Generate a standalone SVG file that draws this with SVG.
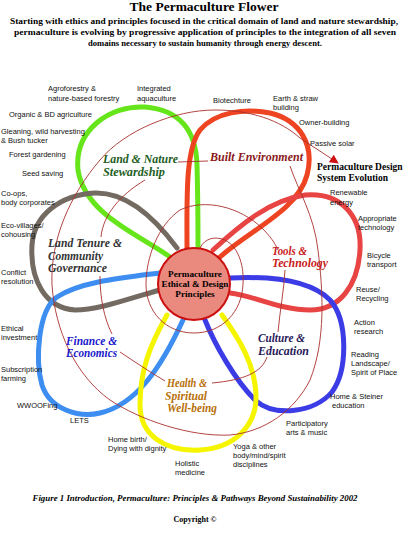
<svg xmlns="http://www.w3.org/2000/svg" width="409" height="540" viewBox="0 0 409 540">
<style>
.t{font-family:"Liberation Sans",Arial,sans-serif;font-size:7.5px;fill:#111}
.h{font-family:"Liberation Serif","Times New Roman",serif;font-weight:bold;fill:#000}
.p{fill:none;stroke-width:5;stroke-linecap:round;stroke-linejoin:round}
.sp{fill:none;stroke:#a8302c;stroke-width:0.9}
.lb{font-family:"Liberation Serif","Times New Roman",serif;font-style:italic;font-weight:bold;font-size:11.5px}
</style>
<defs>
<marker id="arr" viewBox="0 0 10 10" refX="9" refY="5" markerWidth="10" markerHeight="9" orient="auto" markerUnits="userSpaceOnUse">
<path d="M0,0 L10,5 L0,10 z" fill="#d01010"/>
</marker>
</defs>
<rect width="409" height="540" fill="#fff"/>

<g id="title">
<text class="h" x="204" y="11" font-size="13.5" text-anchor="middle">The Permaculture Flower</text>
<text class="h" x="204" y="24" font-size="8.8" text-anchor="middle" textLength="388" lengthAdjust="spacingAndGlyphs">Starting with ethics and principles focused in the critical domain of land and nature stewardship,</text>
<text class="h" x="205" y="35" font-size="8.8" text-anchor="middle" textLength="382" lengthAdjust="spacingAndGlyphs">permaculture is evolving  by progressive application of principles to the integration of all seven</text>
<text class="h" x="205" y="46" font-size="8.8" text-anchor="middle" textLength="234" lengthAdjust="spacingAndGlyphs">domains necessary to sustain humanity through energy descent.</text>
</g>

<g id="petals">
<g id="land-nature"><path class="p" stroke="#66e61a" d="M170,257 C140,235 85,215 78,170 C74,130 110,105 145,107 C180,110 196,130 197,165 C198,200 198,230 198,248"/></g>
<g id="land-tenure"><path class="p" stroke="#736a62" d="M160,290 C130,298 100,310 75,310 C45,308 30,280 32,245 C34,215 60,195 95,193 C130,192 160,225 177,248"/></g>
<g id="built-environment"><path class="p" stroke="#ee4422" d="M187,249 C187,200 185,150 200,130 C215,112 245,108 270,113 C300,120 315,145 307,175 C298,210 250,230 220,257"/></g>
<g id="tools-technology"><path class="p" stroke="#e84444" d="M213,250 C240,225 270,200 305,195 C340,192 362,215 360,250 C358,285 340,310 310,310 C280,310 255,296 230,293"/></g>
<g id="culture-education"><path class="p" stroke="#3c3ce6" d="M230,278 C270,276 310,280 330,300 C348,320 348,370 332,392 C315,412 275,418 255,400 C235,380 215,345 205,320"/></g>
<g id="finance-economics"><path class="p" stroke="#3d8ef0" d="M160,273 C120,278 80,282 57,297 C38,310 35,360 42,385 C50,410 80,418 100,413 C135,405 160,370 183,320"/></g>
<g id="health-wellbeing"><path class="p" stroke="#f5f500" d="M167,315 C150,345 140,370 140,405 C140,435 165,452 200,450 C235,448 257,425 256,395 C255,365 240,340 222,315"/></g>
</g>

<g id="connectors">
<path class="sp" d="M200,248 C205,238 215,236 225,240 C240,248 244,268 243,284 C242,312 222,333 194,333 C166,333 146,312 146,284 C146,258 158,225 180,210 C205,198 240,207 262,228 C270,236 275,243 278,250"/>
<path class="sp" d="M285,270 C284,290 280,310 278,332"/>
<path class="sp" d="M267,357 C262,372 245,380 212,383"/>
<path class="sp" d="M165,381 C150,372 135,362 120,352"/>
<path class="sp" d="M112,334 C104,318 100,298 100,276"/>
<path class="sp" d="M101,237 C103,215 120,195 145,180"/>
<path class="sp" d="M178,162 L208,161"/>
<path class="sp" stroke="#c42020" marker-end="url(#arr)" d="M290,166 C298,190 314,215 318,250 C323,290 326,340 310,380 C295,410 265,432 230,435 C190,437 140,420 110,400 C75,375 55,330 52,285 C50,240 70,195 100,160 C125,130 175,110 215,110 C250,110 280,120 300,138 L338,163"/>
</g>

<g id="center">
<circle cx="194" cy="284" r="36" fill="#ea8a7e" stroke="#cc1010" stroke-width="2"/>
<text class="h" font-size="9.2" text-anchor="middle" x="195" y="277">Permaculture</text>
<text class="h" font-size="9.2" text-anchor="middle" x="195" y="287">Ethical &amp; Design</text>
<text class="h" font-size="9.2" text-anchor="middle" x="195" y="297">Principles</text>
</g>

<g id="petal-labels">
<text class="lb" fill="#1e5e1e" x="103" y="163" textLength="75" lengthAdjust="spacingAndGlyphs">Land &amp; Nature</text>
<text class="lb" fill="#1e5e1e" x="103" y="176" textLength="62" lengthAdjust="spacingAndGlyphs">Stewardship</text>
<text class="lb" fill="#8b1a1a" x="210" y="161" textLength="93" lengthAdjust="spacingAndGlyphs">Built Environment</text>
<text class="lb" fill="#c82020" x="272" y="255" textLength="35" lengthAdjust="spacingAndGlyphs">Tools &amp;</text>
<text class="lb" fill="#c82020" x="272" y="267" textLength="56" lengthAdjust="spacingAndGlyphs">Technology</text>
<text class="lb" fill="#333" x="48" y="247" textLength="74" lengthAdjust="spacingAndGlyphs">Land Tenure &amp;</text>
<text class="lb" fill="#333" x="48" y="260" textLength="55" lengthAdjust="spacingAndGlyphs">Community</text>
<text class="lb" fill="#333" x="48" y="272" textLength="59" lengthAdjust="spacingAndGlyphs">Governance</text>
<text class="lb" fill="#1a1acc" x="66" y="345" textLength="51" lengthAdjust="spacingAndGlyphs">Finance &amp;</text>
<text class="lb" fill="#1a1acc" x="66" y="357" textLength="51" lengthAdjust="spacingAndGlyphs">Economics</text>
<text class="lb" fill="#2a1a5a" x="258" y="342" textLength="47" lengthAdjust="spacingAndGlyphs">Culture &amp;</text>
<text class="lb" fill="#2a1a5a" x="258" y="355" textLength="51" lengthAdjust="spacingAndGlyphs">Education</text>
<text class="lb" fill="#b8700a" x="167" y="387" textLength="40" lengthAdjust="spacingAndGlyphs">Health &amp;</text>
<text class="lb" fill="#b8700a" x="165" y="400" textLength="42" lengthAdjust="spacingAndGlyphs">Spiritual</text>
<text class="lb" fill="#b8700a" x="167" y="412" textLength="50" lengthAdjust="spacingAndGlyphs">Well-being</text>
</g>

<g id="outer-labels">
<text class="t" x="48" y="91">Agroforestry &amp;</text>
<text class="t" x="48" y="101">nature-based forestry</text>
<text class="t" x="137" y="91">Integrated</text>
<text class="t" x="137" y="101">aquaculture</text>
<text class="t" x="9" y="117">Organic &amp; BD agriculture</text>
<text class="t" x="1" y="134">Gleaning, wild harvesting</text>
<text class="t" x="1" y="143">&amp; Bush tucker</text>
<text class="t" x="9" y="157">Forest gardening</text>
<text class="t" x="22" y="176">Seed saving</text>
<text class="t" x="1" y="196">Co-ops,</text>
<text class="t" x="1" y="205">body corporates</text>
<text class="t" x="1" y="228">Eco-villages/</text>
<text class="t" x="1" y="237">cohousing</text>
<text class="t" x="1" y="275">Conflict</text>
<text class="t" x="1" y="284">resolution</text>
<text class="t" x="1" y="331">Ethical</text>
<text class="t" x="1" y="340">investment</text>
<text class="t" x="1" y="372">Subscription</text>
<text class="t" x="1" y="381">farming</text>
<text class="t" x="17" y="408">WWOOFing</text>
<text class="t" x="70" y="423">LETS</text>
<text class="t" x="108" y="442">Home birth/</text>
<text class="t" x="108" y="451">Dying with dignity</text>
<text class="t" x="175" y="466">Holistic</text>
<text class="t" x="175" y="475">medicine</text>
<text class="t" x="233" y="449">Yoga &amp; other</text>
<text class="t" x="233" y="458">body/mind/spirit</text>
<text class="t" x="233" y="467">disciplines</text>
<text class="t" x="286" y="426">Participatory</text>
<text class="t" x="286" y="435">arts &amp; music</text>
<text class="t" x="330" y="399">Home &amp; Steiner</text>
<text class="t" x="332" y="408">education</text>
<text class="t" x="351" y="357">Reading</text>
<text class="t" x="351" y="366">Landscape/</text>
<text class="t" x="351" y="375">Spirit of Place</text>
<text class="t" x="354" y="325">Action</text>
<text class="t" x="354" y="334">research</text>
<text class="t" x="356" y="292">Reuse/</text>
<text class="t" x="356" y="301">Recycling</text>
<text class="t" x="367" y="258">Bicycle</text>
<text class="t" x="367" y="267">transport</text>
<text class="t" x="358" y="221">Appropriate</text>
<text class="t" x="358" y="230">technology</text>
<text class="t" x="330" y="195">Renewable</text>
<text class="t" x="330" y="205">energy</text>
<text class="t" x="310" y="146">Passive solar</text>
<text class="t" x="299" y="125">Owner-building</text>
<text class="t" x="273" y="101">Earth &amp; straw</text>
<text class="t" x="273" y="110">building</text>
<text class="t" x="213" y="103">Biotechture</text>
<text class="h" font-size="9.5" x="317" y="170">Permaculture Design</text>
<text class="h" font-size="9.5" x="317" y="181">System Evolution</text>
</g>

<g id="caption">
<text class="h" font-style="italic" font-size="8" x="195" y="501" text-anchor="middle" textLength="325" lengthAdjust="spacingAndGlyphs">Figure 1 Introduction, Permaculture: Principles &amp; Pathways Beyond Sustainability 2002</text>
<text class="h" font-size="8" x="195" y="522" text-anchor="middle">Copyright ©</text>
</g>
</svg>
